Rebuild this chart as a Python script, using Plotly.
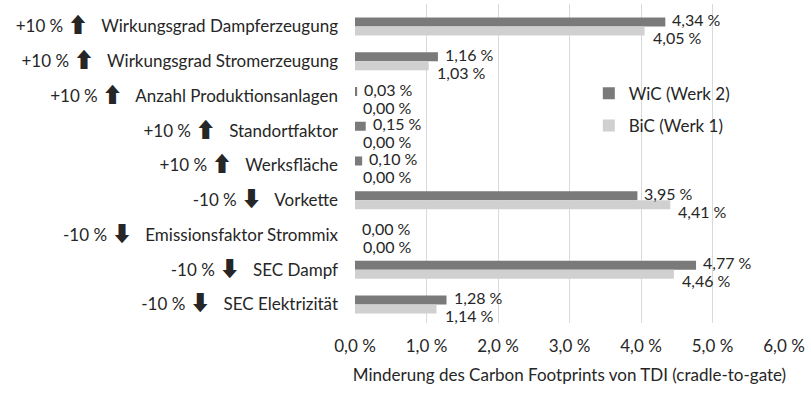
import plotly.graph_objects as go

# Sensitivity cases (top to bottom)
factors = [
    "Wirkungsgrad Dampferzeugung",
    "Wirkungsgrad Stromerzeugung",
    "Anzahl Produktionsanlagen",
    "Standortfaktor",
    "Werksfläche",
    "Vorkette",
    "Emissionsfaktor Strommix",
    "SEC Dampf",
    "SEC Elektrizität",
]
changes = ["+10 %", "+10 %", "+10 %", "+10 %", "+10 %", "-10 %", "-10 %", "-10 %", "-10 %"]
wic_werk2 = [4.34, 1.16, 0.03, 0.15, 0.10, 3.95, 0.00, 4.77, 1.28]
bic_werk1 = [4.05, 1.03, 0.00, 0.00, 0.00, 4.41, 0.00, 4.46, 1.14]
tick_vals = [0, 1, 2, 3, 4, 5, 6]
tick_text = ["0,0 %", "1,0 %", "2,0 %", "3,0 %", "4,0 %", "5,0 %", "6,0 %"]

FONT = "Lato, 'Open Sans', sans-serif"
TXT = "#262626"
DARK = "#7a7a7a"
LIGHT = "#d0d0d0"


def fmt(v):
    return f"{v:.2f}".replace(".", ",") + " %"


def ylabel(change, factor):
    arrow = "\u2B06" if change.startswith("+") else "\u2B07"
    return (f"{change} <span style='font-family:Noto Sans CJK JP, DejaVu Sans;font-size:21px;font-weight:bold'>{arrow}</span>"
            f"\u2002 {factor}")


fig = go.Figure()
fig.add_trace(go.Bar(
    y=factors, x=wic_werk2, orientation="h", name="WiC (Werk 2)",
    marker=dict(color=DARK, line=dict(width=0)), legendgroup="a",
))
fig.add_trace(go.Bar(
    y=factors, x=bic_werk1, orientation="h", name="BiC (Werk 1)",
    marker=dict(color=LIGHT, line=dict(width=0)), legendgroup="b",
))

# value labels beside the bar ends
for cat, v in zip(factors, wic_werk2):
    fig.add_annotation(x=v, y=cat, text=fmt(v), showarrow=False,
                       xanchor="left", xshift=5, yshift=7,
                       font=dict(family=FONT, size=16, color=TXT))
for cat, v in zip(factors, bic_werk1):
    fig.add_annotation(x=v, y=cat, text=fmt(v), showarrow=False,
                       xanchor="left", xshift=6, yshift=-11,
                       font=dict(family=FONT, size=16, color=TXT))

fig.update_layout(
    width=811, height=394,
    margin=dict(l=355, r=27, t=4, b=71),
    paper_bgcolor="white", plot_bgcolor="white",
    barmode="group", bargap=0.48, bargroupgap=0,
    font=dict(family=FONT, size=17, color=TXT),
    showlegend=True,
    legend=dict(x=0.545, y=0.775, xanchor="left", yanchor="top",
                bgcolor="rgba(0,0,0,0)", traceorder="grouped",
                tracegroupgap=7, font=dict(size=17, color=TXT)),
    xaxis=dict(range=[0, 6], tickvals=tick_vals, ticktext=tick_text,
               showgrid=True, gridcolor="#d9d9d9", gridwidth=1,
               zeroline=False, showline=False, ticks="",
               ticklabelstandoff=11,
               tickfont=dict(size=17, color=TXT),
               title=dict(text="Minderung des Carbon Footprints von TDI (cradle-to-gate)",
                          font=dict(size=17, color=TXT), standoff=14)),
    yaxis=dict(autorange="reversed", showgrid=False, zeroline=False,
               showline=False, ticks="", ticklabelstandoff=16,
               tickmode="array", tickvals=factors,
               ticktext=[ylabel(c, f) for c, f in zip(changes, factors)],
               tickfont=dict(size=17, color=TXT)),
)

fig.write_html("out.html")
